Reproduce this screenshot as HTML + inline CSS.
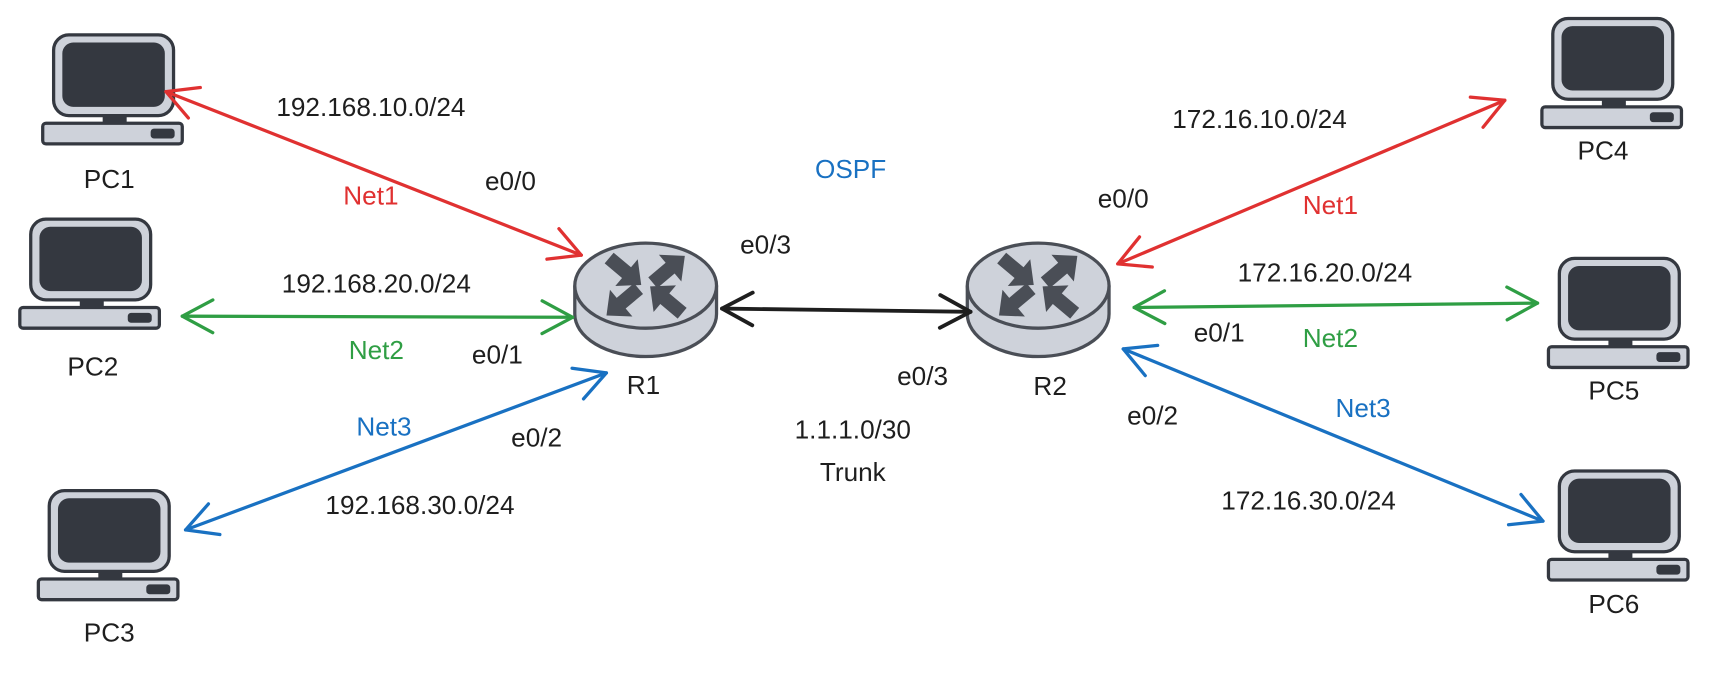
<!DOCTYPE html>
<html><head><meta charset="utf-8"><style>
html,body{margin:0;padding:0;background:#fff;width:1710px;height:676px;overflow:hidden}
svg{display:block}
text{font-family:"Liberation Sans",sans-serif;font-size:24px;text-anchor:middle;dominant-baseline:middle;fill:#1e1e1e}
.r{fill:#e03131}.g{fill:#2f9e44}.b{fill:#1971c2}
</style></head><body>
<svg width="1710" height="676" viewBox="0 0 1568 620" xmlns="http://www.w3.org/2000/svg">
<defs>
<marker id="mr" markerUnits="userSpaceOnUse" markerWidth="60" markerHeight="60" viewBox="-40 -30 60 60" refX="0" refY="0" orient="auto-start-reverse"><path d="M-28,-15 L0,0 L-28,15" fill="none" stroke="#e03131" stroke-width="3" stroke-linecap="round" stroke-linejoin="round"/></marker>
<marker id="mg" markerUnits="userSpaceOnUse" markerWidth="60" markerHeight="60" viewBox="-40 -30 60 60" refX="0" refY="0" orient="auto-start-reverse"><path d="M-28,-15 L0,0 L-28,15" fill="none" stroke="#2f9e44" stroke-width="3" stroke-linecap="round" stroke-linejoin="round"/></marker>
<marker id="mb" markerUnits="userSpaceOnUse" markerWidth="60" markerHeight="60" viewBox="-40 -30 60 60" refX="0" refY="0" orient="auto-start-reverse"><path d="M-28,-15 L0,0 L-28,15" fill="none" stroke="#1971c2" stroke-width="3" stroke-linecap="round" stroke-linejoin="round"/></marker>
<marker id="mk" markerUnits="userSpaceOnUse" markerWidth="60" markerHeight="60" viewBox="-40 -30 60 60" refX="0" refY="0" orient="auto-start-reverse"><path d="M-28,-15 L0,0 L-28,15" fill="none" stroke="#1e1e1e" stroke-width="3.5" stroke-linecap="round" stroke-linejoin="round"/></marker>
<g id="pc">
<rect x="10" y="0" width="110" height="74" rx="14" fill="#ced2da" stroke="#343840" stroke-width="3"/>
<rect x="18" y="7" width="94" height="59" rx="10" fill="#343840"/>
<rect x="55" y="74" width="22" height="7" fill="#343840"/>
<rect x="0" y="81" width="128" height="19" rx="3" fill="#ced2da" stroke="#343840" stroke-width="3"/>
<rect x="99" y="86" width="22" height="9" rx="3" fill="#343840"/>
</g>
<polygon id="ar" points="-11,-4 2,-4 2,-10 13,0 2,10 2,4 -11,4" fill="#4a4e56"/>
<g id="rt">
<path d="M-65,0 L-65,26 A65,39 0 0 0 65,26 L65,0" fill="#ced2da" stroke="#4a4e56" stroke-width="3"/>
<ellipse cx="0" cy="0" rx="65" ry="39" fill="#ced2da" stroke="#4a4e56" stroke-width="3"/>
<use href="#ar" transform="translate(-20,-14) rotate(40) scale(1.6)"/>
<use href="#ar" transform="translate(20,-14) rotate(-40) scale(1.6)"/>
<use href="#ar" transform="translate(-20,14) rotate(140) scale(1.6)"/>
<use href="#ar" transform="translate(20,14) rotate(-140) scale(1.6)"/>
</g>
</defs>

<use href="#pc" transform="translate(39,32)"/>
<use href="#pc" transform="translate(18,201)"/>
<use href="#pc" transform="translate(35,450)"/>
<use href="#pc" transform="translate(1414,17)"/>
<use href="#pc" transform="translate(1420,237)"/>
<use href="#pc" transform="translate(1420,432)"/>

<use href="#rt" transform="translate(592,262)"/>
<use href="#rt" transform="translate(952,262)"/>

<g fill="none" stroke-width="3" stroke-linecap="round">
<line x1="152" y1="84" x2="533" y2="234" stroke="#e03131" marker-start="url(#mr)" marker-end="url(#mr)"/>
<line x1="167" y1="290" x2="525" y2="291" stroke="#2f9e44" marker-start="url(#mg)" marker-end="url(#mg)"/>
<line x1="170" y1="486" x2="556" y2="342" stroke="#1971c2" marker-start="url(#mb)" marker-end="url(#mb)"/>
<line x1="662" y1="283" x2="890" y2="286" stroke="#1e1e1e" stroke-width="3.5" marker-start="url(#mk)" marker-end="url(#mk)"/>
<line x1="1025" y1="242" x2="1380" y2="92" stroke="#e03131" marker-start="url(#mr)" marker-end="url(#mr)"/>
<line x1="1040" y1="282" x2="1410" y2="278" stroke="#2f9e44" marker-start="url(#mg)" marker-end="url(#mg)"/>
<line x1="1030" y1="320" x2="1415" y2="478" stroke="#1971c2" marker-start="url(#mb)" marker-end="url(#mb)"/>
</g>

<text x="100" y="166">PC1</text>
<text x="85" y="338">PC2</text>
<text x="100" y="582">PC3</text>
<text x="1470" y="140">PC4</text>
<text x="1480" y="360">PC5</text>
<text x="1480" y="556">PC6</text>
<text x="590" y="355">R1</text>
<text x="963" y="356">R2</text>

<text x="340" y="100">192.168.10.0/24</text>
<text x="468" y="168">e0/0</text>
<text class="r" x="340" y="181">Net1</text>
<text x="345" y="262">192.168.20.0/24</text>
<text class="g" x="345" y="323">Net2</text>
<text x="456" y="327">e0/1</text>
<text class="b" x="352" y="393">Net3</text>
<text x="492" y="403">e0/2</text>
<text x="385" y="465">192.168.30.0/24</text>

<text class="b" x="780" y="157">OSPF</text>
<text x="702" y="226">e0/3</text>
<text x="846" y="347">e0/3</text>
<text x="782" y="396">1.1.1.0/30</text>
<text x="782" y="435">Trunk</text>

<text x="1155" y="111">172.16.10.0/24</text>
<text x="1030" y="184">e0/0</text>
<text class="r" x="1220" y="190">Net1</text>
<text x="1215" y="252">172.16.20.0/24</text>
<text x="1118" y="307">e0/1</text>
<text class="g" x="1220" y="312">Net2</text>
<text x="1057" y="383">e0/2</text>
<text class="b" x="1250" y="376">Net3</text>
<text x="1200" y="461">172.16.30.0/24</text>
</svg>
</body></html>
